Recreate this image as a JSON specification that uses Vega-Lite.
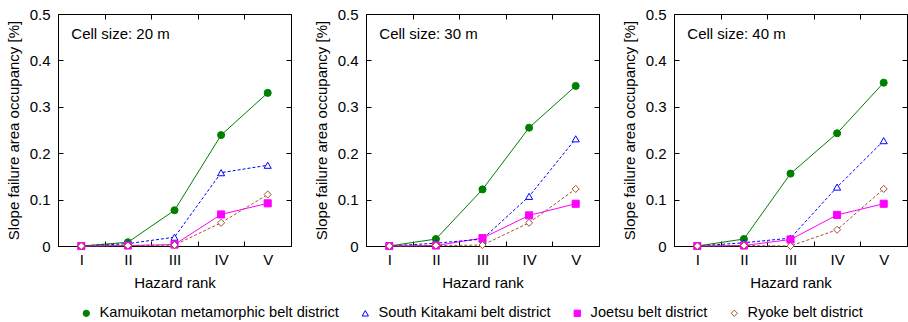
{
  "$schema": "https://vega.github.io/schema/vega-lite/v6.json",
  "padding": {"left": 5, "top": 6, "right": 0, "bottom": 0},
  "config": {
    "font": "Liberation Sans",
    "view": {"stroke": "black", "strokeWidth": 1},
    "axis": {
      "labelFont": "Liberation Sans",
      "titleFont": "Liberation Sans",
      "labelFontSize": 15,
      "titleFontSize": 15,
      "titleFontWeight": "normal",
      "labelColor": "black",
      "titleColor": "black",
      "tickColor": "black",
      "domain": false,
      "grid": false,
      "tickSize": -5
    },
    "legend": {"labelFont": "Liberation Sans", "labelFontSize": 14.6, "labelColor": "black", "labelLimit": 0}
  },
  "data": {
    "values": [
      {"cell": "Cell size: 20 m", "district": "Kamuikotan metamorphic belt district", "rank": "I", "value": 0},
      {"cell": "Cell size: 20 m", "district": "Kamuikotan metamorphic belt district", "rank": "II", "value": 0.008},
      {"cell": "Cell size: 20 m", "district": "Kamuikotan metamorphic belt district", "rank": "III", "value": 0.077},
      {"cell": "Cell size: 20 m", "district": "Kamuikotan metamorphic belt district", "rank": "IV", "value": 0.239},
      {"cell": "Cell size: 20 m", "district": "Kamuikotan metamorphic belt district", "rank": "V", "value": 0.330},
      {"cell": "Cell size: 20 m", "district": "South Kitakami belt district", "rank": "I", "value": 0},
      {"cell": "Cell size: 20 m", "district": "South Kitakami belt district", "rank": "II", "value": 0.005},
      {"cell": "Cell size: 20 m", "district": "South Kitakami belt district", "rank": "III", "value": 0.019},
      {"cell": "Cell size: 20 m", "district": "South Kitakami belt district", "rank": "IV", "value": 0.158},
      {"cell": "Cell size: 20 m", "district": "South Kitakami belt district", "rank": "V", "value": 0.174},
      {"cell": "Cell size: 20 m", "district": "Joetsu belt district", "rank": "I", "value": 0},
      {"cell": "Cell size: 20 m", "district": "Joetsu belt district", "rank": "II", "value": 0.001},
      {"cell": "Cell size: 20 m", "district": "Joetsu belt district", "rank": "III", "value": 0.003},
      {"cell": "Cell size: 20 m", "district": "Joetsu belt district", "rank": "IV", "value": 0.068},
      {"cell": "Cell size: 20 m", "district": "Joetsu belt district", "rank": "V", "value": 0.092},
      {"cell": "Cell size: 20 m", "district": "Ryoke belt district", "rank": "I", "value": 0},
      {"cell": "Cell size: 20 m", "district": "Ryoke belt district", "rank": "II", "value": 0.001},
      {"cell": "Cell size: 20 m", "district": "Ryoke belt district", "rank": "III", "value": 0.002},
      {"cell": "Cell size: 20 m", "district": "Ryoke belt district", "rank": "IV", "value": 0.050},
      {"cell": "Cell size: 20 m", "district": "Ryoke belt district", "rank": "V", "value": 0.111},
      {"cell": "Cell size: 30 m", "district": "Kamuikotan metamorphic belt district", "rank": "I", "value": 0},
      {"cell": "Cell size: 30 m", "district": "Kamuikotan metamorphic belt district", "rank": "II", "value": 0.015},
      {"cell": "Cell size: 30 m", "district": "Kamuikotan metamorphic belt district", "rank": "III", "value": 0.122},
      {"cell": "Cell size: 30 m", "district": "Kamuikotan metamorphic belt district", "rank": "IV", "value": 0.255},
      {"cell": "Cell size: 30 m", "district": "Kamuikotan metamorphic belt district", "rank": "V", "value": 0.345},
      {"cell": "Cell size: 30 m", "district": "South Kitakami belt district", "rank": "I", "value": 0},
      {"cell": "Cell size: 30 m", "district": "South Kitakami belt district", "rank": "II", "value": 0.006},
      {"cell": "Cell size: 30 m", "district": "South Kitakami belt district", "rank": "III", "value": 0.015},
      {"cell": "Cell size: 30 m", "district": "South Kitakami belt district", "rank": "IV", "value": 0.107},
      {"cell": "Cell size: 30 m", "district": "South Kitakami belt district", "rank": "V", "value": 0.231},
      {"cell": "Cell size: 30 m", "district": "Joetsu belt district", "rank": "I", "value": 0},
      {"cell": "Cell size: 30 m", "district": "Joetsu belt district", "rank": "II", "value": 0.001},
      {"cell": "Cell size: 30 m", "district": "Joetsu belt district", "rank": "III", "value": 0.017},
      {"cell": "Cell size: 30 m", "district": "Joetsu belt district", "rank": "IV", "value": 0.066},
      {"cell": "Cell size: 30 m", "district": "Joetsu belt district", "rank": "V", "value": 0.091},
      {"cell": "Cell size: 30 m", "district": "Ryoke belt district", "rank": "I", "value": 0},
      {"cell": "Cell size: 30 m", "district": "Ryoke belt district", "rank": "II", "value": 0.001},
      {"cell": "Cell size: 30 m", "district": "Ryoke belt district", "rank": "III", "value": 0.002},
      {"cell": "Cell size: 30 m", "district": "Ryoke belt district", "rank": "IV", "value": 0.050},
      {"cell": "Cell size: 30 m", "district": "Ryoke belt district", "rank": "V", "value": 0.123},
      {"cell": "Cell size: 40 m", "district": "Kamuikotan metamorphic belt district", "rank": "I", "value": 0},
      {"cell": "Cell size: 40 m", "district": "Kamuikotan metamorphic belt district", "rank": "II", "value": 0.015},
      {"cell": "Cell size: 40 m", "district": "Kamuikotan metamorphic belt district", "rank": "III", "value": 0.156},
      {"cell": "Cell size: 40 m", "district": "Kamuikotan metamorphic belt district", "rank": "IV", "value": 0.243},
      {"cell": "Cell size: 40 m", "district": "Kamuikotan metamorphic belt district", "rank": "V", "value": 0.352},
      {"cell": "Cell size: 40 m", "district": "South Kitakami belt district", "rank": "I", "value": 0},
      {"cell": "Cell size: 40 m", "district": "South Kitakami belt district", "rank": "II", "value": 0.007},
      {"cell": "Cell size: 40 m", "district": "South Kitakami belt district", "rank": "III", "value": 0.017},
      {"cell": "Cell size: 40 m", "district": "South Kitakami belt district", "rank": "IV", "value": 0.127},
      {"cell": "Cell size: 40 m", "district": "South Kitakami belt district", "rank": "V", "value": 0.227},
      {"cell": "Cell size: 40 m", "district": "Joetsu belt district", "rank": "I", "value": 0},
      {"cell": "Cell size: 40 m", "district": "Joetsu belt district", "rank": "II", "value": 0.001},
      {"cell": "Cell size: 40 m", "district": "Joetsu belt district", "rank": "III", "value": 0.014},
      {"cell": "Cell size: 40 m", "district": "Joetsu belt district", "rank": "IV", "value": 0.067},
      {"cell": "Cell size: 40 m", "district": "Joetsu belt district", "rank": "V", "value": 0.091},
      {"cell": "Cell size: 40 m", "district": "Ryoke belt district", "rank": "I", "value": 0},
      {"cell": "Cell size: 40 m", "district": "Ryoke belt district", "rank": "II", "value": 0.001},
      {"cell": "Cell size: 40 m", "district": "Ryoke belt district", "rank": "III", "value": 0.0},
      {"cell": "Cell size: 40 m", "district": "Ryoke belt district", "rank": "IV", "value": 0.035},
      {"cell": "Cell size: 40 m", "district": "Ryoke belt district", "rank": "V", "value": 0.123}
    ]
  },
  "facet": {"column": {"field": "cell", "type": "nominal", "header": null}},
  "spacing": 75,
  "bounds": "flush",
  "resolve": {"axis": {"x": "independent", "y": "independent"}},
  "spec": {
    "width": 233,
    "height": 232,
    "layer": [
      {
        "transform": [{"filter": "datum.district == 'Kamuikotan metamorphic belt district' || datum.district == 'Joetsu belt district'"}],
        "mark": {"type": "line", "strokeWidth": 1},
        "encoding": {
          "x": {
            "field": "rank", "type": "ordinal",
            "scale": {"type": "band", "domain": ["I", "II", "III", "IV", "V"], "paddingInner": 0, "paddingOuter": 0},
            "axis": {"orient": "bottom", "title": "Hazard rank", "labelAngle": 0, "tickBand": "extent", "labelPadding": 11, "titlePadding": 8}
          },
          "y": {
            "field": "value", "type": "quantitative",
            "scale": {"domain": [0, 0.5], "nice": false, "zero": true},
            "axis": {"orient": "left", "title": "Slope failure area occupancy [%]", "values": [0, 0.1, 0.2, 0.3, 0.4, 0.5], "format": ".1~f", "labelPadding": 13, "titlePadding": 8}
          },
          "stroke": {"field": "district", "type": "nominal", "title": null},
          "detail": {"field": "district", "type": "nominal"}
        }
      },
      {
        "transform": [{"filter": "datum.district == 'South Kitakami belt district' || datum.district == 'Ryoke belt district'"}],
        "mark": {"type": "line", "strokeWidth": 1, "strokeDash": [3, 2]},
        "encoding": {
          "x": {"field": "rank", "type": "ordinal", "scale": {"type": "band", "domain": ["I", "II", "III", "IV", "V"], "paddingInner": 0, "paddingOuter": 0}, "axis": null},
          "y": {"field": "value", "type": "quantitative", "scale": {"domain": [0, 0.5], "nice": false, "zero": true}, "axis": null},
          "stroke": {"field": "district", "type": "nominal", "title": null},
          "detail": {"field": "district", "type": "nominal"}
        }
      },
      {
        "mark": {"type": "point", "filled": true, "size": 50, "strokeWidth": 1, "opacity": 1},
        "encoding": {
          "x": {
            "field": "rank", "type": "ordinal",
            "scale": {"type": "band", "domain": ["I", "II", "III", "IV", "V"], "paddingInner": 0, "paddingOuter": 0},
            "axis": {"orient": "top", "title": null, "labels": false, "tickBand": "extent"}
          },
          "y": {
            "field": "value", "type": "quantitative",
            "scale": {"domain": [0, 0.5], "nice": false, "zero": true},
            "axis": {"orient": "right", "title": null, "labels": false, "values": [0, 0.1, 0.2, 0.3, 0.4, 0.5]}
          },
          "shape": {
            "field": "district", "type": "nominal", "title": null,
            "scale": {"domain": ["Kamuikotan metamorphic belt district", "South Kitakami belt district", "Joetsu belt district", "Ryoke belt district"], "range": ["circle", "triangle-up", "square", "diamond"]},
            "legend": {"orient": "none", "legendX": 21, "legendY": 292, "direction": "horizontal", "gridAlign": "none", "labelOffset": 6, "columnPadding": 19, "symbolSize": 40, "symbolStrokeWidth": 1}
          },
          "fill": {
            "field": "district", "type": "nominal", "title": null,
            "scale": {"domain": ["Kamuikotan metamorphic belt district", "South Kitakami belt district", "Joetsu belt district", "Ryoke belt district"], "range": ["#008000", "#ffffff", "#ff00ff", "#ffffff"]},
            "legend": {"orient": "none", "legendX": 21, "legendY": 292, "direction": "horizontal", "gridAlign": "none", "labelOffset": 6, "columnPadding": 19, "symbolSize": 40, "symbolStrokeWidth": 1}
          },
          "stroke": {
            "field": "district", "type": "nominal", "title": null,
            "scale": {"domain": ["Kamuikotan metamorphic belt district", "South Kitakami belt district", "Joetsu belt district", "Ryoke belt district"], "range": ["#008000", "#0000ff", "#ff00ff", "#a0522d"]},
            "legend": {"orient": "none", "legendX": 21, "legendY": 292, "direction": "horizontal", "gridAlign": "none", "labelOffset": 6, "columnPadding": 19, "symbolSize": 40, "symbolStrokeWidth": 1}
          }
        }
      },
      {
        "transform": [{"filter": "datum.rank == 'I' && datum.district == 'Ryoke belt district'"}],
        "mark": {"type": "text", "align": "left", "baseline": "middle", "dx": -10, "fontSize": 15, "font": "Liberation Sans", "color": "black"},
        "encoding": {
          "x": {"field": "rank", "type": "ordinal", "scale": {"type": "band", "domain": ["I", "II", "III", "IV", "V"], "paddingInner": 0, "paddingOuter": 0}, "axis": null},
          "y": {"datum": 0.457, "type": "quantitative", "axis": null},
          "text": {"field": "cell", "type": "nominal"}
        }
      }
    ],
    "resolve": {"axis": {"x": "independent", "y": "independent"}}
  }
}
